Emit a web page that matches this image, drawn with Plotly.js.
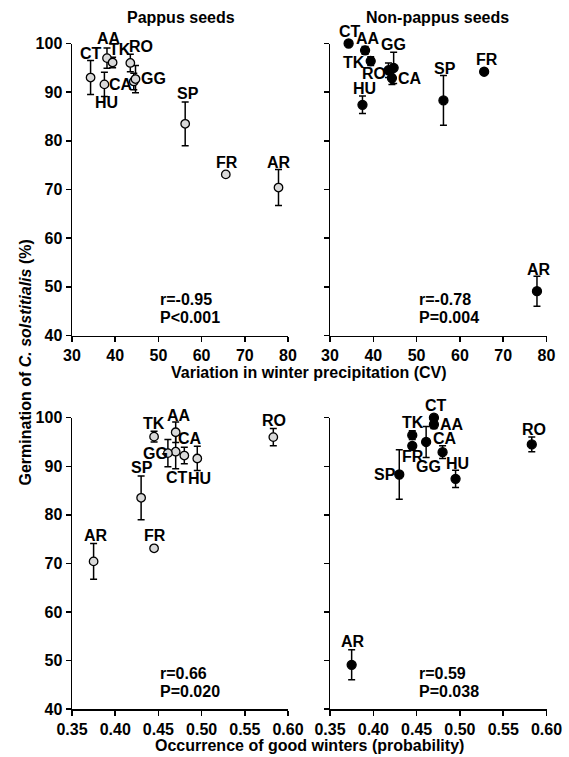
<!DOCTYPE html>
<html>
<head>
<meta charset="utf-8">
<script src="https://cdn.plot.ly/plotly-3.0.1.min.js"></script>
<style>html,body{margin:0;padding:0;background:#fff;}#chart{width:569px;height:757px;}</style>
</head>
<body>
<div id="chart"></div>
<script>
// ---- data ----
const sites = ['CT','HU','AA','TK','RO','CA','GG','SP','FR','AR'];
const winterPrecipCV = [34.3, 37.5, 38.1, 39.4, 43.5, 44.3, 44.7, 56.2, 65.6, 77.8];
const goodWinterProb = [0.470, 0.495, 0.470, 0.445, 0.583, 0.480, 0.461, 0.430, 0.445, 0.375];
const pappusGerm = [93.0, 91.6, 97.0, 96.1, 96.0, 92.2, 92.7, 83.5, 73.1, 70.4];
const pappusErr = [3.5, 2.5, 2.1, 1.1, 1.8, 1.7, 2.8, 4.5, 0.4, 3.7];
const nonPappusGerm = [100.0, 87.4, 98.6, 96.4, 94.5, 92.9, 95.0, 88.3, 94.2, 49.1];
const nonPappusErr = [0.0, 1.8, 0.8, 0.9, 1.5, 1.3, 3.2, 5.1, 0.5, 3.1];
const panelTitles = ['Pappus seeds', 'Non-pappus seeds'];
const stats = [['r=-0.95','P<0.001'], ['r=-0.78','P=0.004'], ['r=0.66','P=0.020'], ['r=0.59','P=0.038']];
const cvTicks = [30, 40, 50, 60, 70, 80];
const probTicks = [0.35, 0.40, 0.45, 0.50, 0.55, 0.60];
const germTicks = [40, 50, 60, 70, 80, 90, 100];

// ---- label placement (pixel offsets: [dx, dy], dy positive = down) ----
const labelOffsets = [
  {CT:[0,-24],HU:[2,18],AA:[2,-20],TK:[7,-13],RO:[11,-16],CA:[-13,3],GG:[18,-1],SP:[3,-30],FR:[1,-12],AR:[0,-25]},
  {CT:[1,-12],HU:[2,-16],AA:[3,-12],TK:[-17,1],RO:[-14,3],CA:[18,0],GG:[0,-23],SP:[2,-32],FR:[3,-12],AR:[2,-22]},
  {CT:[1,26],HU:[2,20],AA:[3,-17],TK:[0,-13],RO:[1,-17],CA:[6,-17],GG:[-12,0],SP:[1,-30],FR:[1,-13],AR:[2,-26]},
  {CT:[2,-12],HU:[2,-15],AA:[18,0],TK:[1,-13],RO:[2,-15],CA:[2,-14],GG:[2,25],SP:[-14,0],FR:[1,11],AR:[1,-23]}
];

const FONT = 'Liberation Sans, Arial, sans-serif';
const FS = 16;
const boldFont = () => ({family: FONT, size: FS, color: '#000', weight: 'bold'});

const panels = [
  {x: winterPrecipCV, y: pappusGerm, e: pappusErr, fill: '#d9d9d9', xa: 'x', ya: 'y', size: 8.5},
  {x: winterPrecipCV, y: nonPappusGerm, e: nonPappusErr, fill: '#000000', xa: 'x2', ya: 'y2', size: 9},
  {x: goodWinterProb, y: pappusGerm, e: pappusErr, fill: '#d9d9d9', xa: 'x3', ya: 'y3', size: 8.5},
  {x: goodWinterProb, y: nonPappusGerm, e: nonPappusErr, fill: '#000000', xa: 'x4', ya: 'y4', size: 9}
];

const traces = panels.map(p => ({
  type: 'scatter', mode: 'markers', x: p.x, y: p.y, xaxis: p.xa, yaxis: p.ya,
  cliponaxis: false, showlegend: false,
  marker: {size: p.size, color: p.fill, line: {color: '#000', width: 1.3}},
  error_y: {type: 'data', array: p.e, visible: true, color: '#000', thickness: 1.5, width: 3.5}
}));

const annotations = [];
panels.forEach((p, i) => {
  sites.forEach((s, j) => {
    const off = labelOffsets[i][s];
    annotations.push({
      xref: p.xa, yref: p.ya, x: p.x[j], y: p.y[j], text: s, showarrow: false,
      xanchor: 'center', yanchor: 'middle',
      xshift: off[0], yshift: -off[1], font: boldFont()
    });
  });
  const sx = i < 2 ? 50 : 0.45;
  annotations.push({xref: p.xa, yref: p.ya, x: sx, y: 47.3, text: stats[i][0], showarrow: false,
    xanchor: 'left', yanchor: 'middle', font: boldFont()});
  annotations.push({xref: p.xa, yref: p.ya, x: sx, y: 43.6, text: stats[i][1], showarrow: false,
    xanchor: 'left', yanchor: 'middle', font: boldFont()});
});

function paperText(px, py, text, extra) {
  annotations.push(Object.assign({xref:'paper', yref:'paper', x: px/569, y: 1-py/757, text, showarrow:false,
    xanchor:'center', yanchor:'middle', font: boldFont()}, extra || {}));
}
paperText(180.7, 17.3, panelTitles[0]);
paperText(437.7, 17.3, panelTitles[1]);
paperText(309, 372, 'Variation in winter precipitation (CV)');
paperText(309, 745, 'Occurrence of good winters (probability)');
paperText(25, 362.5, 'Germination of <i>C. solstitialis</i> (%)', {textangle: -90});

function xAxis(domain, anchor, range, ticks, fmt) {
  return {domain, anchor, range, tickvals: ticks, ticktext: ticks.map(fmt), showgrid: false, zeroline: false,
    showline: true, linecolor: '#000', linewidth: 1.5, ticks: 'outside', ticklen: 5, tickwidth: 1.5, tickcolor: '#000',
    tickfont: boldFont(), fixedrange: true};
}
function yAxis(domain, anchor) {
  return {domain, anchor, range: [40, 100], tickvals: germTicks, showgrid: false, zeroline: false,
    showline: true, linecolor: '#000', linewidth: 1.5, ticks: 'outside', ticklen: 5, tickwidth: 1.5, tickcolor: '#000',
    tickfont: boldFont(), fixedrange: true};
}
const xL = [72/569, 288/569], xR = [330/569, 546.5/569];
const yT = [1-335.5/757, 1-43.5/757], yB = [1-709/757, 1-417.7/757];
const cvFmt = v => String(v), prFmt = v => v.toFixed(2);

const layout = {
  width: 569, height: 757, margin: {l:0, r:0, t:0, b:0},
  paper_bgcolor: '#fff', plot_bgcolor: 'rgba(0,0,0,0)', showlegend: false,
  font: {family: FONT, color: '#000'},
  xaxis: xAxis(xL, 'y', [30, 80], cvTicks, cvFmt),
  yaxis: yAxis(yT, 'x'),
  xaxis2: xAxis(xR, 'y2', [30, 80], cvTicks, cvFmt),
  yaxis2: Object.assign(yAxis(yT, 'x2'), {showticklabels: false}),
  xaxis3: xAxis(xL, 'y3', [0.35, 0.60], probTicks, prFmt),
  yaxis3: yAxis(yB, 'x3'),
  xaxis4: xAxis(xR, 'y4', [0.35, 0.60], probTicks, prFmt),
  yaxis4: Object.assign(yAxis(yB, 'x4'), {showticklabels: false}),
  annotations
};
Plotly.newPlot('chart', traces, layout, {displayModeBar: false, staticPlot: true});
</script>
</body>
</html>
